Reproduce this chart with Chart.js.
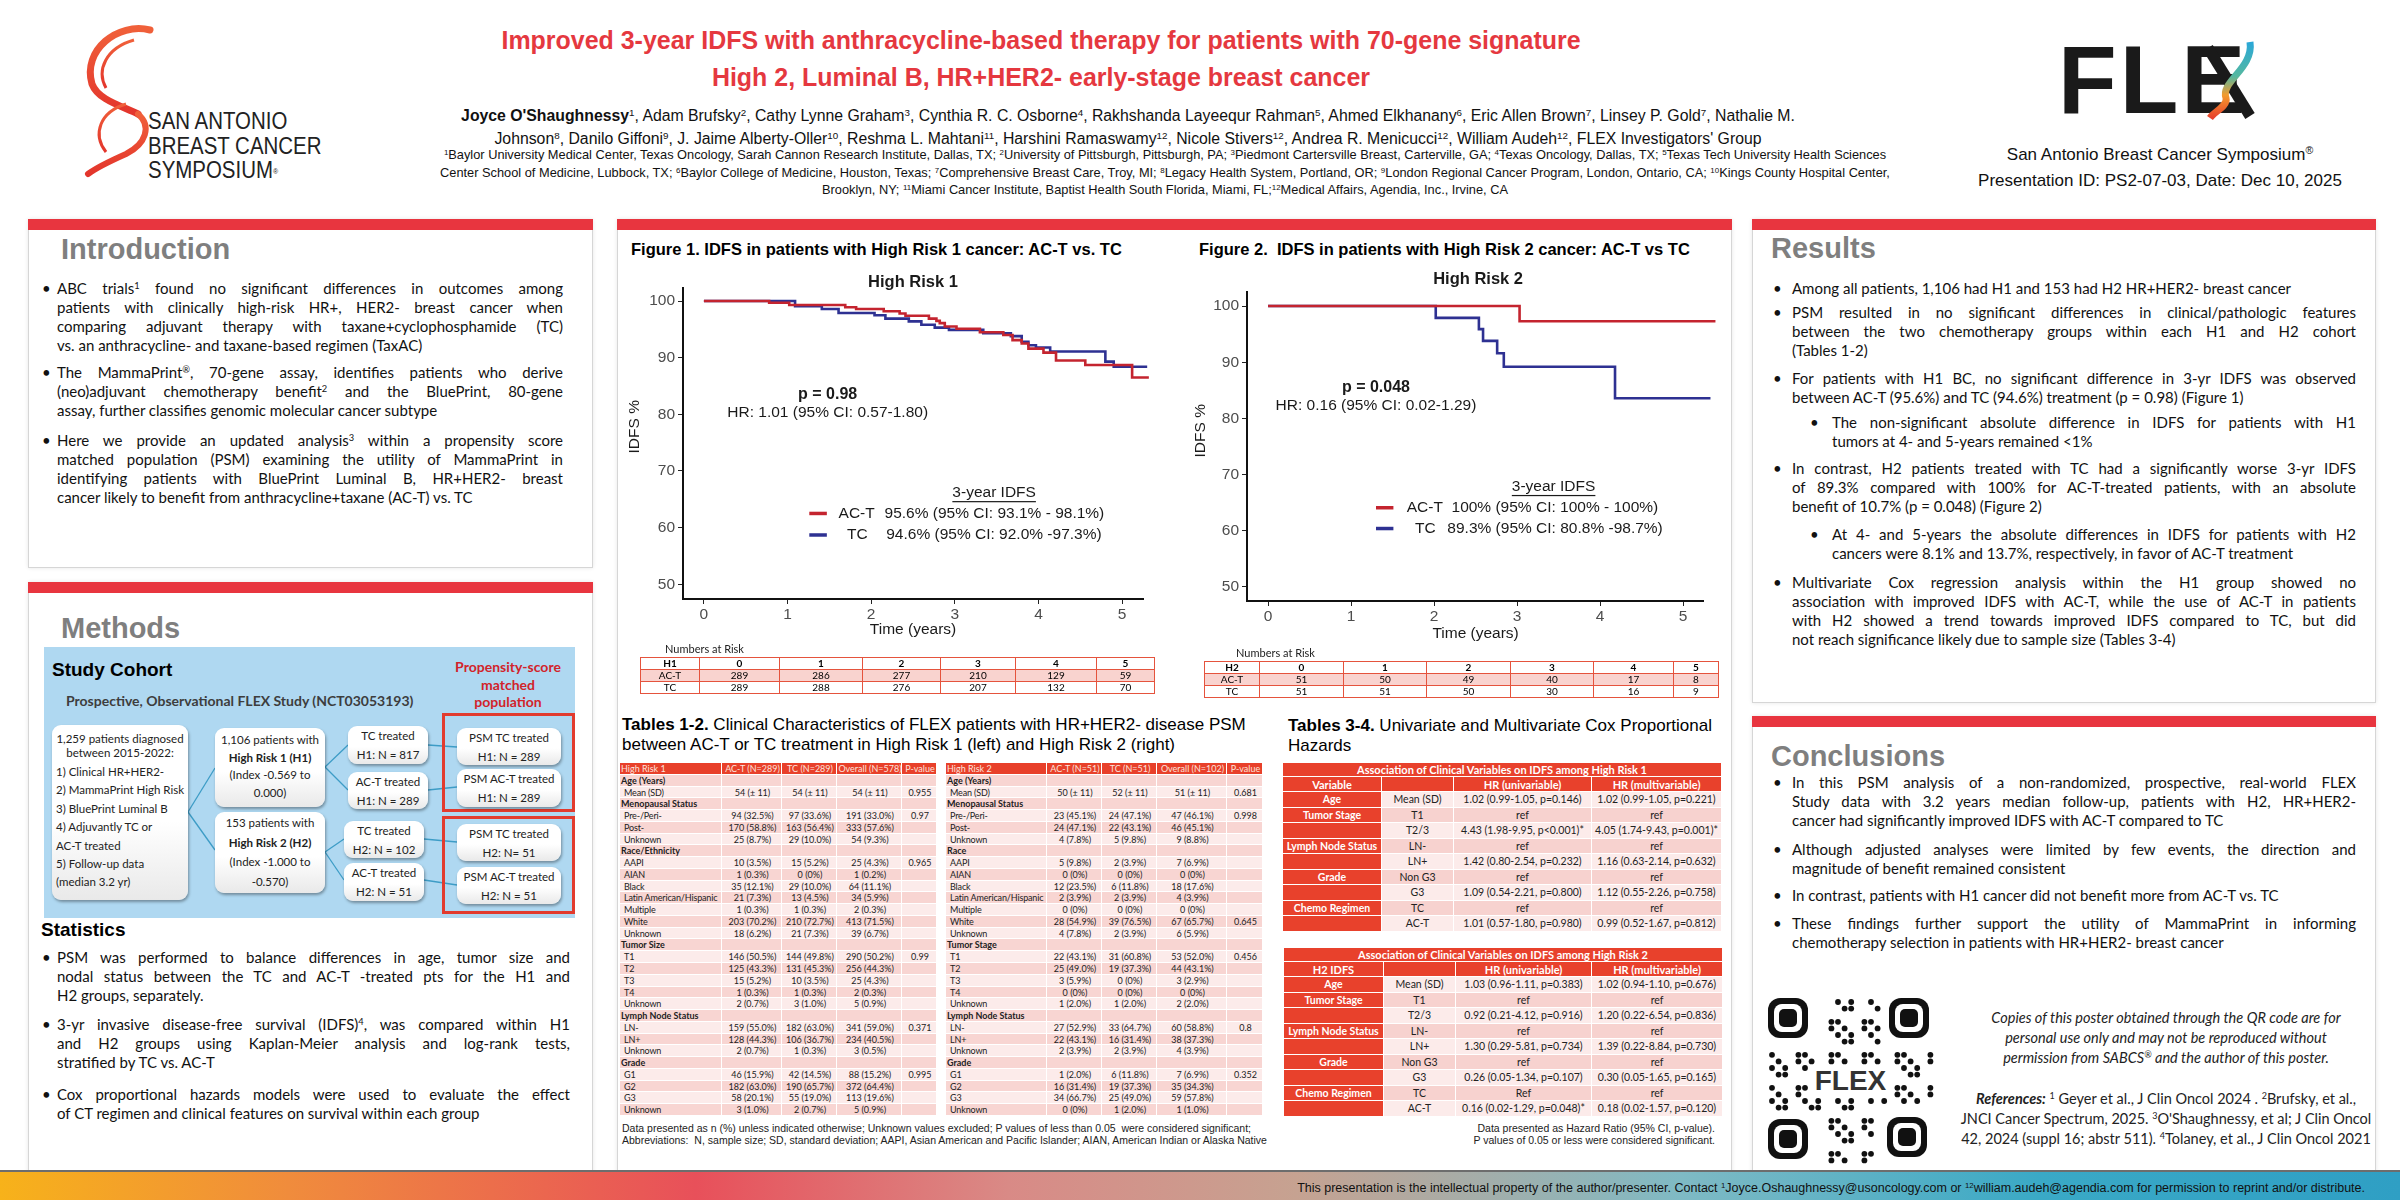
<!DOCTYPE html>
<html>
<head>
<meta charset="utf-8">
<title>FLEX PS2-07-03</title>
<script src="https://cdn.jsdelivr.net/npm/chart.js@4.4.1/dist/chart.umd.min.js"></script>
<style>
  html, body { margin: 0; padding: 0; }
  body { width: 2400px; height: 1200px; position: relative; overflow: hidden; background: #fff;
         font-family: "Liberation Sans", Arial, sans-serif; color: #000; }
  .abs { position: absolute; }
  .narrow { font-family: "Liberation Sans Narrow", "Arial Narrow", "Liberation Sans", sans-serif; }
  sup { font-size: 0.62em; line-height: 0; vertical-align: 0.55em; }
  .panel { position: absolute; background: #fff; border: 1px solid #d6d6d6; box-shadow: 0 0 4px rgba(0,0,0,0.10); }
  .panel .bar { position: absolute; left: -1px; right: -1px; top: -1px; height: 11px; background: #e8353f; }
  .heading { position: absolute; font: bold 29px "Liberation Sans", Arial, sans-serif; color: #7f7f7f; line-height: 34px; }
  .blist { position: absolute; font: 15px Lato, sans-serif; color: #111; }
  .blist .ln { height: 19px; line-height: 19px; text-align: justify; text-align-last: justify; }
  .blist .ln.last { text-align-last: left; }
  .figtitle { position: absolute; font: bold 16.5px "Liberation Sans", Arial, sans-serif; line-height: 20px; white-space: nowrap; }
  .risk { position: absolute; border-collapse: collapse; table-layout: fixed; font: 10px Lato, sans-serif; }
  .risk td { border: 1.5px solid #e5533d; height: 11px; padding: 0; text-align: center; line-height: 11px; }
  .risk tr.hd td { font-weight: bold; }
  .risk tr.a td { background: #f9d3cf; }
  .risklab { position: absolute; font: 11px Lato, sans-serif; color: #222; }
  .t12 { position: absolute; border-collapse: separate; border-spacing: 0; table-layout: fixed; font: 9px Lato, sans-serif; color: #222; }
  .t12 td { height: 11.77px; padding: 0 0 0 1px; line-height: 11.77px; border: 0; box-shadow: inset -1px -1px 0 #fff;
            white-space: nowrap; overflow: hidden; }
  .t12 td.c { text-align: center; }
  .t12 tr.hd td { background: #e8402a; color: #fde3dc; }
  .t12 tr.r0 td { background: #f8d5d2; }
  .t12 tr.r1 td { background: #fcebea; }
  .t12 td.cat { font-weight: bold; }
  .t12 td.sub { padding-left: 4px; letter-spacing: -0.15px; }
  .t34 { position: absolute; border-collapse: collapse; table-layout: fixed; font: 10.5px Lato, sans-serif; color: #222; }
  .t34 td { border: 1px solid #fff; padding: 0; text-align: center; white-space: nowrap; }
  .t34 td.red { background: #e8412c; color: #fff; font-weight: bold; }
  .t34 tr.r0 td.d { background: #fcebea; }
  .t34 tr.r1 td.d { background: #f7d2cf; }
  .note { position: absolute; font: 10.5px "Liberation Sans", Arial, sans-serif; color: #222; line-height: 12px; white-space: nowrap; }
  .cohort { position: absolute; left: 44px; top: 647px; width: 531px; height: 271px; background: #afd8f1; }
  .box { position: absolute; background: linear-gradient(#ffffff, #ffffff 55%, #e9e9e9); border-radius: 9px;
         box-shadow: 1px 2px 3px rgba(0,0,0,0.35); font: 11.5px Lato, sans-serif; color: #222; text-align: center; white-space: nowrap; }
  .frame { position: absolute; border: 3px solid #e23b2e; box-sizing: border-box; }
</style>
</head>
<body>

<!-- header -->
<svg class="abs" style="left:0;top:0" width="320" height="200">
  <defs>
    <linearGradient id="rib" x1="0" y1="0" x2="0" y2="1">
      <stop offset="0" stop-color="#f0603a"/><stop offset="1" stop-color="#e3352c"/>
    </linearGradient>
  </defs>
  <path d="M150 30 C 118 22, 82 50, 92 84 C 98 100, 122 106, 138 114" fill="none" stroke="url(#rib)" stroke-width="7" stroke-linecap="round"/>
  <path d="M134 40 C 106 48, 96 70, 106 88" fill="none" stroke="url(#rib)" stroke-width="3"/>
  <path d="M138 114 C 152 126, 146 144, 126 154 C 108 162, 96 168, 88 174" fill="none" stroke="url(#rib)" stroke-width="6" stroke-linecap="round"/>
  <path d="M126 104 C 100 112, 92 134, 106 152" fill="none" stroke="url(#rib)" stroke-width="3"/>
</svg>
<div class="abs narrow" style="left:148px;top:109px;font-size:23.5px;line-height:24.5px;color:#222;transform:scaleX(0.87);transform-origin:0 0;white-space:nowrap">SAN ANTONIO<br>BREAST CANCER<br>SYMPOSIUM<sup style="font-size:8px">®</sup></div>

<div class="abs narrow" style="left:441px;width:1200px;top:22px;text-align:center;font-weight:bold;font-size:26px;line-height:37px;color:#e5383f;transform:scaleX(0.96);transform-origin:50% 0">
  Improved 3-year IDFS with anthracycline-based therapy for patients with 70-gene signature<br>High 2, Luminal B, HR+HER2- early-stage breast cancer</div>
<div class="abs narrow" style="left:428px;width:1400px;top:104px;text-align:center;font-size:15.8px;line-height:23px;color:#111">
  <b>Joyce O'Shaughnessy</b><sup>1</sup>, Adam Brufsky<sup>2</sup>, Cathy Lynne Graham<sup>3</sup>, Cynthia R. C. Osborne<sup>4</sup>, Rakhshanda Layeequr Rahman<sup>5</sup>, Ahmed Elkhanany<sup>6</sup>, Eric Allen Brown<sup>7</sup>, Linsey P. Gold<sup>7</sup>, Nathalie M.<br>
  Johnson<sup>8</sup>, Danilo Giffoni<sup>9</sup>, J. Jaime Alberty-Oller<sup>10</sup>, Reshma L. Mahtani<sup>11</sup>, Harshini Ramaswamy<sup>12</sup>, Nicole Stivers<sup>12</sup>, Andrea R. Menicucci<sup>12</sup>, William Audeh<sup>12</sup>, FLEX Investigators' Group</div>
<div class="abs narrow" style="left:415px;width:1500px;top:146px;text-align:center;font-size:12.8px;line-height:17.5px;color:#111">
  <sup>1</sup>Baylor University Medical Center, Texas Oncology, Sarah Cannon Research Institute, Dallas, TX; <sup>2</sup>University of Pittsburgh, Pittsburgh, PA; <sup>3</sup>Piedmont Cartersville Breast, Carterville, GA; <sup>4</sup>Texas Oncology, Dallas, TX; <sup>5</sup>Texas Tech University Health Sciences<br>
  Center School of Medicine, Lubbock, TX; <sup>6</sup>Baylor College of Medicine, Houston, Texas; <sup>7</sup>Comprehensive Breast Care, Troy, MI; <sup>8</sup>Legacy Health System, Portland, OR; <sup>9</sup>London Regional Cancer Program, London, Ontario, CA; <sup>10</sup>Kings County Hospital Center,<br>
  Brooklyn, NY; <sup>11</sup>Miami Cancer Institute, Baptist Health South Florida, Miami, FL;<sup>12</sup>Medical Affairs, Agendia, Inc., Irvine, CA</div>

<div class="abs narrow" style="left:2058px;top:30px;font-weight:bold;font-size:96px;line-height:100px;color:#1a1a1a;letter-spacing:3px">FLE</div>
<svg class="abs" style="left:2200px;top:38px" width="70" height="86">
  <defs>
    <linearGradient id="hel" x1="0" y1="0" x2="0" y2="1">
      <stop offset="0" stop-color="#2aa7d8"/><stop offset="0.45" stop-color="#55b8a0"/><stop offset="0.7" stop-color="#f39a2c"/><stop offset="1" stop-color="#e8412c"/>
    </linearGradient>
  </defs>
  <path d="M8 10 L 50 78" stroke="#1a1a1a" stroke-width="11"/>
  <path d="M50 4 C 54 30, 20 44, 26 60 C 28 68, 14 74, 10 80" fill="none" stroke="url(#hel)" stroke-width="7"/>
  <g stroke="url(#hel)" stroke-width="3">
    <line x1="38" y1="14" x2="54" y2="14"/><line x1="34" y1="24" x2="50" y2="24"/><line x1="28" y1="34" x2="44" y2="34"/>
    <line x1="14" y1="66" x2="30" y2="66"/><line x1="10" y1="74" x2="26" y2="74"/>
  </g>
</svg>
<div class="abs" style="left:1950px;width:420px;top:142px;text-align:center;font-size:17px;line-height:26px;color:#111">
  San Antonio Breast Cancer Symposium<sup>®</sup><br>Presentation ID: PS2-07-03, Date: Dec 10, 2025</div>

<!-- panels -->
<div class="panel" style="left:28px;top:219px;width:563px;height:347px"><div class="bar"></div></div>
<div class="panel" style="left:28px;top:582px;width:563px;height:590px"><div class="bar"></div></div>
<div class="panel" style="left:617px;top:219px;width:1113px;height:953px"><div class="bar"></div></div>
<div class="panel" style="left:1752px;top:219px;width:622px;height:482px"><div class="bar"></div></div>
<div class="panel" style="left:1752px;top:716px;width:622px;height:456px"><div class="bar"></div></div>

<div class="heading" style="left:61px;top:232px">Introduction</div>
<div class="heading" style="left:61px;top:611px">Methods</div>
<div class="heading" style="left:1771px;top:231px">Results</div>
<div class="heading" style="left:1771px;top:739px">Conclusions</div>

<div id="introList"></div>
<div id="statList"></div>
<div id="resultList"></div>
<div id="conclList"></div>

<!-- study cohort -->
<div class="cohort"></div>
<div class="abs" style="left:52px;top:659px;font:bold 19px 'Liberation Sans',Arial,sans-serif">Study Cohort</div>
<div class="abs" style="left:66px;top:692px;font:bold 14px Lato,sans-serif;color:#3d3d3d">Prospective, Observational FLEX Study (NCT03053193)</div>
<div class="abs" style="left:448px;width:120px;top:658px;text-align:center;font:bold 14px Lato,sans-serif;line-height:17.5px;color:#d2232a">Propensity-score<br>matched<br>population</div>
<svg class="abs" style="left:0;top:0" width="600" height="1000">
  <g stroke="#3d9cc6" stroke-width="1.3" fill="none">
    <line x1="188" y1="812" x2="215" y2="768"/><line x1="188" y1="812" x2="215" y2="850"/>
    <line x1="325" y1="767" x2="348" y2="745"/><line x1="325" y1="767" x2="348" y2="790"/>
    <line x1="325" y1="852" x2="344" y2="839"/><line x1="325" y1="852" x2="344" y2="880"/>
    <line x1="428" y1="745" x2="457" y2="747"/><line x1="428" y1="790" x2="457" y2="787"/>
    <line x1="424" y1="839" x2="457" y2="842"/><line x1="424" y1="880" x2="457" y2="885"/>
  </g>
</svg>
<div class="box" style="left:52px;top:725px;width:136px;height:175px">
  <div style="padding-top:7px;line-height:14px">1,259 patients diagnosed<br>between 2015-2022:</div>
  <div style="text-align:left;padding-left:4px;line-height:18.4px;margin-top:3px">1) Clinical HR+HER2-<br>2) MammaPrint High Risk<br>3) BluePrint Luminal B<br>4) Adjuvantly TC or<br>AC-T treated<br>5) Follow-up data<br>(median 3.2 yr)</div>
</div>
<div class="box" style="left:215px;top:728px;width:110px;height:79px;line-height:17.5px;padding-top:3px;box-sizing:border-box">1,106 patients with<br><b>High Risk 1 (H1)</b><br>(Index -0.569 to<br>0.000)</div>
<div class="box" style="left:215px;top:812px;width:110px;height:81px;line-height:19.5px;padding-top:1px;box-sizing:border-box">153 patients with<br><b>High Risk 2 (H2)</b><br>(Index -1.000 to<br>-0.570)</div>
<div class="box" style="left:348px;top:726px;width:80px;height:38px;line-height:19px">TC treated<br>H1: N = 817</div>
<div class="box" style="left:348px;top:772px;width:80px;height:37px;line-height:19px">AC-T treated<br>H1: N = 289</div>
<div class="box" style="left:344px;top:821px;width:80px;height:37px;line-height:19px">TC treated<br>H2: N = 102</div>
<div class="box" style="left:344px;top:863px;width:80px;height:38px;line-height:19px">AC-T treated<br>H2: N = 51</div>
<div class="frame" style="left:442px;top:713px;width:133px;height:99px"></div>
<div class="frame" style="left:442px;top:816px;width:133px;height:98px"></div>
<div class="box" style="left:457px;top:728px;width:104px;height:37px;line-height:19px">PSM TC treated<br>H1: N = 289</div>
<div class="box" style="left:457px;top:769px;width:104px;height:38px;line-height:19px">PSM AC-T treated<br>H1: N = 289</div>
<div class="box" style="left:457px;top:824px;width:104px;height:37px;line-height:19px">PSM TC treated<br>H2: N= 51</div>
<div class="box" style="left:457px;top:867px;width:104px;height:37px;line-height:19px">PSM AC-T treated<br>H2: N = 51</div>

<div class="abs" style="left:41px;top:919px;font:bold 19px 'Liberation Sans',Arial,sans-serif">Statistics</div>

<!-- figures -->
<div class="figtitle" style="left:631px;top:239px">Figure 1. IDFS in patients with High Risk 1 cancer: AC-T vs. TC</div>
<div class="figtitle" style="left:1199px;top:239px">Figure 2.&nbsp; IDFS in patients with High Risk 2 cancer: AC-T vs TC</div>
<canvas id="fig1" class="abs" style="left:620px;top:265px" width="545" height="380"></canvas>
<canvas id="fig2" class="abs" style="left:1190px;top:265px" width="540" height="380"></canvas>
<div class="risklab" style="left:665px;top:642px">Numbers at Risk</div>
<div class="risklab" style="left:1236px;top:646px">Numbers at Risk</div>
<table id="risk1" class="risk" style="left:640px;top:657px;width:514px"></table>
<table id="risk2" class="risk" style="left:1204px;top:661px;width:514px"></table>

<!-- tables -->
<div class="abs" style="left:622px;top:715px;font-size:17px;line-height:19.5px;white-space:nowrap"><b>Tables 1-2.</b> Clinical Characteristics of FLEX patients with HR+HER2- disease PSM<br>between AC-T or TC treatment in High Risk 1 (left) and High Risk 2 (right)</div>
<table id="tab1" class="t12" style="left:620px;top:763px;width:317px"></table>
<table id="tab2" class="t12" style="left:946px;top:763px;width:317px"></table>
<div class="note" style="left:622px;top:1122px">Data presented as n (%) unless indicated otherwise; Unknown values excluded; P values of less than 0.05&nbsp; were considered significant;<br>Abbreviations:&nbsp; N, sample size; SD, standard deviation; AAPI, Asian American and Pacific Islander; AIAN, American Indian or Alaska Native</div>

<div class="abs" style="left:1288px;top:716px;font-size:17px;line-height:19.5px;white-space:nowrap"><b>Tables 3-4.</b> Univariate and Multivariate Cox Proportional<br>Hazards</div>
<table id="tab3" class="t34" style="left:1282px;top:762px;width:439px"></table>
<table id="tab4" class="t34" style="left:1283px;top:947px;width:439px"></table>
<div class="note" style="left:1400px;width:315px;top:1122px;text-align:right">Data presented as Hazard Ratio (95% CI, p-value).<br>P values of 0.05 or less were considered significant.</div>

<!-- qr + references -->
<svg id="qr" class="abs" style="left:1768px;top:998px" width="170" height="172"></svg>
<div class="abs" style="left:1960px;width:412px;top:1008px;text-align:center;font:italic 14.5px Lato,sans-serif;line-height:20px;color:#222">
  Copies of this poster obtained through the QR code are for<br>personal use only and may not be reproduced without<br>permission from SABCS<sup>®</sup> and the author of this poster.</div>
<div class="abs" style="left:1960px;width:412px;top:1089px;text-align:center;font:14.5px Lato,sans-serif;line-height:20px;color:#222">
  <b><i>References:</i></b> <sup>1</sup> Geyer et al., J Clin Oncol 2024 . <sup>2</sup>Brufsky, et al.,<br>JNCI Cancer Spectrum, 2025. <sup>3</sup>O'Shaughnessy, et al; J Clin Oncol<br>42, 2024 (suppl 16; abstr 511). <sup>4</sup>Tolaney, et al., J Clin Oncol 2021</div>

<!-- footer -->
<div class="abs" style="left:0;top:1170px;width:2400px;height:30px;border-top:2px solid #6d6d6d;box-sizing:border-box;
  background:linear-gradient(90deg,#f7b21a 0%,#f08c3c 12%,#e8505a 29%,#d98a86 42%,#c6a291 54%,#7fbac4 70%,#3aa9c6 85%,#2f9fc4 100%)"></div>
<div class="abs" style="left:1200px;width:1165px;top:1180px;text-align:right;font-size:12.5px;line-height:16px;color:#111">
  This presentation is the intellectual property of the author/presenter. Contact <sup>1</sup>Joyce.Oshaughnessy@usoncology.com or <sup>12</sup>william.audeh@agendia.com for permission to reprint and/or distribute.</div>

<script>
// ---- chart data ----
const xTicks = [0, 1, 2, 3, 4, 5];
const yTicks = [50, 60, 70, 80, 90, 100];
const riskTimes = ['0', '1', '2', '3', '4', '5'];

// High Risk 1: step times (years) and IDFS % after each step
const h1ActTimes = [0, 0.78, 1.02, 1.69, 1.82, 2.15, 2.34, 2.41, 2.69, 2.78, 2.82, 2.88, 3.02, 3.30, 3.58, 3.69, 3.80, 3.88, 4.06, 4.21, 4.56, 5.12, 5.32];
const h1ActIdfs  = [100, 99.7, 99.3, 98.9, 98.6, 98.2, 97.8, 97.4, 96.9, 96.5, 96.1, 95.5, 95.1, 94.5, 94.0, 93.1, 92.5, 91.6, 90.9, 89.5, 88.7, 86.5, 86.5];
const h1TcTimes  = [0, 1.09, 1.41, 1.61, 2.04, 2.17, 2.45, 2.60, 2.76, 2.93, 3.34, 3.67, 3.80, 3.88, 3.97, 4.14, 4.80, 4.90, 5.30];
const h1TcIdfs   = [100, 99.1, 98.6, 97.9, 97.5, 96.9, 96.4, 95.8, 95.3, 94.9, 94.3, 93.8, 92.8, 92.2, 91.8, 91.1, 89.3, 88.4, 88.4];

// High Risk 2
const h2ActTimes = [0, 3.03, 5.39];
const h2ActIdfs  = [100, 97.3, 97.3];
const h2TcTimes  = [0, 2.02, 2.54, 2.59, 2.76, 2.84, 4.18, 5.33];
const h2TcIdfs   = [100, 97.9, 95.9, 93.8, 91.6, 89.2, 83.6, 83.6];

// numbers at risk
const h1RiskAct = [289, 286, 277, 210, 129, 59];
const h1RiskTc  = [289, 288, 276, 207, 132, 70];
const h2RiskAct = [51, 50, 49, 40, 17, 8];
const h2RiskTc  = [51, 51, 50, 30, 16, 9];

const RED = '#c4242f';
const BLUE = '#2e3192';

// ---- table data ----
const tab1Head = ['High Risk 1', 'AC-T (N=289)', 'TC (N=289)', 'Overall (N=578)', 'P-value'];
const tab1Rows = [
  ['Age (Years)'], ['Mean (SD)', '54 (± 11)', '54 (± 11)', '54 (± 11)', '0.955'],
  ['Menopausal Status'], ['Pre-/Peri-', '94 (32.5%)', '97 (33.6%)', '191 (33.0%)', '0.97'],
  ['Post-', '170 (58.8%)', '163 (56.4%)', '333 (57.6%)', ''], ['Unknown', '25 (8.7%)', '29 (10.0%)', '54 (9.3%)', ''],
  ['Race/Ethnicity'], ['AAPI', '10 (3.5%)', '15 (5.2%)', '25 (4.3%)', '0.965'], ['AIAN', '1 (0.3%)', '0 (0%)', '1 (0.2%)', ''],
  ['Black', '35 (12.1%)', '29 (10.0%)', '64 (11.1%)', ''], ['Latin American/Hispanic', '21 (7.3%)', '13 (4.5%)', '34 (5.9%)', ''],
  ['Multiple', '1 (0.3%)', '1 (0.3%)', '2 (0.3%)', ''], ['White', '203 (70.2%)', '210 (72.7%)', '413 (71.5%)', ''],
  ['Unknown', '18 (6.2%)', '21 (7.3%)', '39 (6.7%)', ''],
  ['Tumor Size'], ['T1', '146 (50.5%)', '144 (49.8%)', '290 (50.2%)', '0.99'], ['T2', '125 (43.3%)', '131 (45.3%)', '256 (44.3%)', ''],
  ['T3', '15 (5.2%)', '10 (3.5%)', '25 (4.3%)', ''], ['T4', '1 (0.3%)', '1 (0.3%)', '2 (0.3%)', ''], ['Unknown', '2 (0.7%)', '3 (1.0%)', '5 (0.9%)', ''],
  ['Lymph Node Status'], ['LN-', '159 (55.0%)', '182 (63.0%)', '341 (59.0%)', '0.371'], ['LN+', '128 (44.3%)', '106 (36.7%)', '234 (40.5%)', ''],
  ['Unknown', '2 (0.7%)', '1 (0.3%)', '3 (0.5%)', ''],
  ['Grade'], ['G1', '46 (15.9%)', '42 (14.5%)', '88 (15.2%)', '0.995'], ['G2', '182 (63.0%)', '190 (65.7%)', '372 (64.4%)', ''],
  ['G3', '58 (20.1%)', '55 (19.0%)', '113 (19.6%)', ''], ['Unknown', '3 (1.0%)', '2 (0.7%)', '5 (0.9%)', '']
];
const tab2Head = ['High Risk 2', 'AC-T (N=51)', 'TC (N=51)', 'Overall (N=102)', 'P-value'];
const tab2Rows = [
  ['Age (Years)'], ['Mean (SD)', '50 (± 11)', '52 (± 11)', '51 (± 11)', '0.681'],
  ['Menopausal Status'], ['Pre-/Peri-', '23 (45.1%)', '24 (47.1%)', '47 (46.1%)', '0.998'],
  ['Post-', '24 (47.1%)', '22 (43.1%)', '46 (45.1%)', ''], ['Unknown', '4 (7.8%)', '5 (9.8%)', '9 (8.8%)', ''],
  ['Race'], ['AAPI', '5 (9.8%)', '2 (3.9%)', '7 (6.9%)', ''], ['AIAN', '0 (0%)', '0 (0%)', '0 (0%)', ''],
  ['Black', '12 (23.5%)', '6 (11.8%)', '18 (17.6%)', ''], ['Latin American/Hispanic', '2 (3.9%)', '2 (3.9%)', '4 (3.9%)', ''],
  ['Multiple', '0 (0%)', '0 (0%)', '0 (0%)', ''], ['White', '28 (54.9%)', '39 (76.5%)', '67 (65.7%)', '0.645'],
  ['Unknown', '4 (7.8%)', '2 (3.9%)', '6 (5.9%)', ''],
  ['Tumor Stage'], ['T1', '22 (43.1%)', '31 (60.8%)', '53 (52.0%)', '0.456'], ['T2', '25 (49.0%)', '19 (37.3%)', '44 (43.1%)', ''],
  ['T3', '3 (5.9%)', '0 (0%)', '3 (2.9%)', ''], ['T4', '0 (0%)', '0 (0%)', '0 (0%)', ''], ['Unknown', '1 (2.0%)', '1 (2.0%)', '2 (2.0%)', ''],
  ['Lymph Node Status'], ['LN-', '27 (52.9%)', '33 (64.7%)', '60 (58.8%)', '0.8'], ['LN+', '22 (43.1%)', '16 (31.4%)', '38 (37.3%)', ''],
  ['Unknown', '2 (3.9%)', '2 (3.9%)', '4 (3.9%)', ''],
  ['Grade'], ['G1', '1 (2.0%)', '6 (11.8%)', '7 (6.9%)', '0.352'], ['G2', '16 (31.4%)', '19 (37.3%)', '35 (34.3%)', ''],
  ['G3', '34 (66.7%)', '25 (49.0%)', '59 (57.8%)', ''], ['Unknown', '0 (0%)', '1 (2.0%)', '1 (1.0%)', '']
];
const tab3Title = 'Association of Clinical Variables on IDFS among High Risk 1';
const tab3Head = ['Variable', '', 'HR (univariable)', 'HR (multivariable)'];
const tab3Rows = [
  ['Age', 'Mean (SD)', '1.02 (0.99-1.05, p=0.146)', '1.02 (0.99-1.05, p=0.221)'],
  ['Tumor Stage', 'T1', 'ref', 'ref'], ['', 'T2/3', '4.43 (1.98-9.95, p<0.001)*', '4.05 (1.74-9.43, p=0.001)*'],
  ['Lymph Node Status', 'LN-', 'ref', 'ref'], ['', 'LN+', '1.42 (0.80-2.54, p=0.232)', '1.16 (0.63-2.14, p=0.632)'],
  ['Grade', 'Non G3', 'ref', 'ref'], ['', 'G3', '1.09 (0.54-2.21, p=0.800)', '1.12 (0.55-2.26, p=0.758)'],
  ['Chemo Regimen', 'TC', 'ref', 'ref'], ['', 'AC-T', '1.01 (0.57-1.80, p=0.980)', '0.99 (0.52-1.67, p=0.812)']
];
const tab4Title = 'Association of Clinical Variables on IDFS among High Risk 2';
const tab4Head = ['H2 IDFS', '', 'HR (univariable)', 'HR (multivariable)'];
const tab4Rows = [
  ['Age', 'Mean (SD)', '1.03 (0.96-1.11, p=0.383)', '1.02 (0.94-1.10, p=0.676)'],
  ['Tumor Stage', 'T1', 'ref', 'ref'], ['', 'T2/3', '0.92 (0.21-4.12, p=0.916)', '1.20 (0.22-6.54, p=0.836)'],
  ['Lymph Node Status', 'LN-', 'ref', 'ref'], ['', 'LN+', '1.30 (0.29-5.81, p=0.734)', '1.39 (0.22-8.84, p=0.730)'],
  ['Grade', 'Non G3', 'ref', 'ref'], ['', 'G3', '0.26 (0.05-1.34, p=0.107)', '0.30 (0.05-1.65, p=0.165)'],
  ['Chemo Regimen', 'TC', 'Ref', 'ref'], ['', 'AC-T', '0.16 (0.02-1.29, p=0.048)*', '0.18 (0.02-1.57, p=0.120)']
];

// ---- bullet text (one entry per printed line) ----
const introItems = [
  { top: 279, lines: ['ABC trials<sup>1</sup> found no significant differences in outcomes among', 'patients with clinically high-risk HR+, HER2- breast cancer when', 'comparing adjuvant therapy with taxane+cyclophosphamide (TC)', 'vs. an anthracycline- and taxane-based regimen (TaxAC)'] },
  { top: 363, lines: ['The MammaPrint<sup>®</sup>, 70-gene assay, identifies patients who derive', '(neo)adjuvant chemotherapy benefit<sup>2</sup> and the BluePrint, 80-gene', 'assay, further classifies genomic molecular cancer subtype'] },
  { top: 431, lines: ['Here we provide an updated analysis<sup>3</sup> within a propensity score', 'matched population (PSM) examining the utility of MammaPrint in', 'identifying patients with BluePrint Luminal B, HR+HER2- breast', 'cancer likely to benefit from anthracycline+taxane (AC-T) vs. TC'] }
];
const statItems = [
  { top: 948, lines: ['PSM was performed to balance differences in age, tumor size and', 'nodal status between the TC and AC-T -treated pts for the H1 and', 'H2 groups, separately.'] },
  { top: 1015, lines: ['3-yr invasive disease-free survival (IDFS)<sup>4</sup>, was compared within H1', 'and H2 groups using Kaplan-Meier analysis and log-rank tests,', 'stratified by TC vs. AC-T'] },
  { top: 1085, lines: ['Cox proportional hazards models were used to evaluate the effect', 'of CT regimen and clinical features on survival within each group'] }
];
const resultItems = [
  { top: 279, lines: ['Among all patients, 1,106 had H1 and 153 had H2 HR+HER2- breast cancer'] },
  { top: 303, lines: ['PSM resulted in no significant differences in clinical/pathologic features', 'between the two chemotherapy groups within each H1 and H2 cohort', '(Tables 1-2)'] },
  { top: 369, lines: ['For patients with H1 BC, no significant difference in 3-yr IDFS was observed', 'between AC-T (95.6%) and TC (94.6%) treatment (p = 0.98) (Figure 1)'] },
  { top: 413, sub: true, lines: ['The non-significant absolute difference in IDFS for patients with H1', 'tumors at 4- and 5-years remained &lt;1%'] },
  { top: 459, lines: ['In contrast, H2 patients treated with TC had a significantly worse 3-yr IDFS', 'of 89.3% compared with 100% for AC-T-treated patients, with an absolute', 'benefit of 10.7% (p = 0.048) (Figure 2)'] },
  { top: 525, sub: true, lines: ['At 4- and 5-years the absolute differences in IDFS for patients with H2', 'cancers were 8.1% and 13.7%, respectively, in favor of AC-T treatment'] },
  { top: 573, lines: ['Multivariate Cox regression analysis within the H1 group showed no', 'association with improved IDFS with AC-T, while the use of AC-T in patients', 'with H2 showed a trend towards improved IDFS compared to TC, but did', 'not reach significance likely due to sample size (Tables 3-4)'] }
];
const conclItems = [
  { top: 773, lines: ['In this PSM analysis of a non-randomized, prospective, real-world FLEX', 'Study data with 3.2 years median follow-up, patients with H2, HR+HER2-', 'cancer had significantly improved IDFS with AC-T compared to TC'] },
  { top: 840, lines: ['Although adjusted analyses were limited by few events, the direction and', 'magnitude of benefit remained consistent'] },
  { top: 886, lines: ['In contrast, patients with H1 cancer did not benefit more from AC-T vs. TC'] },
  { top: 914, lines: ['These findings further support the utility of MammaPrint in informing', 'chemotherapy selection in patients with HR+HER2- breast cancer'] }
];

// ---- helpers ----
function drawBullets(id, items, dotX, textX, textR, subDotX, subTextX) {
  const host = document.getElementById(id);
  items.forEach(it => {
    const left = it.sub ? subTextX : textX;
    const blk = document.createElement('div');
    blk.className = 'blist';
    blk.style.left = left + 'px';
    blk.style.top = it.top + 'px';
    blk.style.width = (textR - left) + 'px';
    blk.innerHTML = it.lines.map((l, i) => `<div class="ln${i === it.lines.length - 1 ? ' last' : ''}">${l}</div>`).join('');
    const dot = document.createElement('div');
    dot.className = 'blist';
    dot.style.left = (it.sub ? subDotX : dotX) + 'px';
    dot.style.top = it.top + 'px';
    dot.innerHTML = '<div class="ln">•</div>';
    host.appendChild(dot);
    host.appendChild(blk);
  });
}

function riskTable(id, label, act, tc, widths) {
  const t = document.getElementById(id);
  const cols = widths.map(w => `<col style="width:${w}px">`).join('');
  const row = (cls, first, vals) => `<tr class="${cls}"><td>${first}</td>${vals.map(v => `<td>${v}</td>`).join('')}</tr>`;
  t.innerHTML = cols + row('hd', label, riskTimes) + row('a', 'AC-T', act) + row('', 'TC', tc);
}

function table12(id, head, rows, widths) {
  const t = document.getElementById(id);
  let h = widths.map(w => `<col style="width:${w}px">`).join('');
  h += '<tr class="hd">' + head.map((c, i) => `<td class="${i ? 'c' : ''}">${c}</td>`).join('') + '</tr>';
  rows.forEach((r, k) => {
    const cls = 'r' + (k % 2);
    if (r.length === 1) {
      h += `<tr class="${cls}"><td class="cat">${r[0]}</td><td></td><td></td><td></td><td></td></tr>`;
    } else {
      h += `<tr class="${cls}"><td class="sub">${r[0]}</td>` + r.slice(1).map(c => `<td class="c">${c}</td>`).join('') + '</tr>';
    }
  });
  t.innerHTML = h;
}

function table34(id, title, head, rows, widths) {
  const t = document.getElementById(id);
  let h = widths.map(w => `<col style="width:${w}px">`).join('');
  h += `<tr style="height:14px"><td class="red" colspan="4" style="font-size:11px">${title}</td></tr>`;
  h += '<tr style="height:15px">' + head.map(c => `<td class="red" style="font-size:11px">${c}</td>`).join('') + '</tr>';
  rows.forEach((r, k) => {
    h += `<tr class="r${k % 2}" style="height:15.5px"><td class="red">${r[0]}</td>` + r.slice(1).map(c => `<td class="d">${c}</td>`).join('') + '</tr>';
  });
  t.innerHTML = h;
}

// text placed in data coordinates of the chart
const notesPlugin = {
  id: 'notes',
  afterDraw(chart, args, opts) {
    const { ctx } = chart;
    const sx = chart.scales.x, sy = chart.scales.y;
    ctx.save();
    ctx.textBaseline = 'middle';
    (opts.items || []).forEach(n => {
      const px = sx.getPixelForValue(n.x), py = sy.getPixelForValue(n.y);
      if (n.swatch) {
        ctx.strokeStyle = n.swatch;
        ctx.lineWidth = 3.5;
        ctx.beginPath();
        ctx.moveTo(px, py);
        ctx.lineTo(sx.getPixelForValue(n.x2), py);
        ctx.stroke();
        return;
      }
      ctx.font = n.font;
      ctx.fillStyle = '#1a1a1a';
      ctx.textAlign = n.align || 'center';
      if (n.rotate) {
        ctx.save();
        ctx.translate(px, py);
        ctx.rotate(-Math.PI / 2);
        ctx.fillText(n.text, 0, 0);
        ctx.restore();
        return;
      }
      ctx.fillText(n.text, px, py);
      if (n.underline) {
        const w = ctx.measureText(n.text).width;
        const x0 = ctx.textAlign === 'center' ? px - w / 2 : px;
        ctx.fillRect(x0, py + 8, w, 1.2);
      }
    });
    ctx.restore();
  }
};

const FONT = '"Liberation Sans", Arial, sans-serif';

function kmChart(id, curves, notes, box) {
  return new Chart(document.getElementById(id), {
    type: 'line',
    data: {
      datasets: curves.map(c => ({
        label: c.label,
        data: c.times.map((t, i) => ({ x: t, y: c.idfs[i] })),
        borderColor: c.color,
        borderWidth: 2.6,
        pointRadius: 0,
        stepped: 'before',
        fill: false,
        clip: false
      }))
    },
    plugins: [notesPlugin],
    options: {
      responsive: false,
      animation: false,
      events: [],
      layout: { padding: { top: box.padTop, right: box.padRight, left: 0, bottom: 0 } },
      plugins: { legend: { display: false }, tooltip: { enabled: false }, notes: { items: notes } },
      scales: {
        x: {
          type: 'linear', min: box.xMin, max: box.xMax,
          afterBuildTicks: s => { s.ticks = xTicks.map(v => ({ value: v })); },
          afterFit: s => { s.height = box.xAxisH; },
          grid: { drawOnChartArea: false, drawTicks: true, tickLength: 5, color: '#222', lineWidth: 1 },
          border: { display: true, color: '#111', width: 2 },
          ticks: { color: '#4d4d4d', font: { family: FONT, size: 15.5 }, padding: 1, maxRotation: 0, autoSkip: false }
        },
        y: {
          type: 'linear', min: box.yMin, max: box.yMax,
          afterBuildTicks: s => { s.ticks = yTicks.map(v => ({ value: v })); },
          afterFit: s => { s.width = box.yAxisW; },
          grid: { drawOnChartArea: false, drawTicks: true, tickLength: 5, color: '#222', lineWidth: 1 },
          border: { display: true, color: '#111', width: 2 },
          ticks: { color: '#4d4d4d', font: { family: FONT, size: 15.5 }, padding: 3, autoSkip: false }
        }
      }
    }
  });
}

const B = 'bold 16.5px ' + FONT, R = '15.5px ' + FONT;

const fig1Notes = [
  { text: 'High Risk 1', x: 2.5, y: 103.35, font: B },
  { text: 'IDFS %', x: -0.83, y: 77.8, font: R, rotate: true },
  { text: 'Time (years)', x: 2.5, y: 41.9, font: R },
  { text: 'p = 0.98', x: 1.48, y: 83.5, font: 'bold 16px ' + FONT },
  { text: 'HR: 1.01 (95% CI: 0.57-1.80)', x: 1.48, y: 80.2, font: R },
  { text: '3-year IDFS', x: 3.47, y: 66.1, font: R, underline: true },
  { swatch: RED, x: 1.26, x2: 1.47, y: 62.5 },
  { text: 'AC-T', x: 1.61, y: 62.5, font: R, align: 'left' },
  { text: '95.6% (95% CI: 93.1% - 98.1%)', x: 2.16, y: 62.5, font: R, align: 'left' },
  { swatch: BLUE, x: 1.26, x2: 1.47, y: 58.7 },
  { text: 'TC', x: 1.71, y: 58.7, font: R, align: 'left' },
  { text: '94.6% (95% CI: 92.0% -97.3%)', x: 2.18, y: 58.7, font: R, align: 'left' }
];
const fig2Notes = [
  { text: 'High Risk 2', x: 2.53, y: 104.8, font: B },
  { text: 'IDFS %', x: -0.81, y: 77.8, font: R, rotate: true },
  { text: 'Time (years)', x: 2.5, y: 41.6, font: R },
  { text: 'p = 0.048', x: 1.30, y: 85.5, font: 'bold 16px ' + FONT },
  { text: 'HR: 0.16 (95% CI: 0.02-1.29)', x: 1.30, y: 82.2, font: R },
  { text: '3-year IDFS', x: 3.44, y: 67.8, font: R, underline: true },
  { swatch: RED, x: 1.30, x2: 1.51, y: 64.1 },
  { text: 'AC-T', x: 1.67, y: 64.1, font: R, align: 'left' },
  { text: '100% (95% CI: 100% - 100%)', x: 2.21, y: 64.1, font: R, align: 'left' },
  { swatch: BLUE, x: 1.30, x2: 1.51, y: 60.4 },
  { text: 'TC', x: 1.77, y: 60.4, font: R, align: 'left' },
  { text: '89.3% (95% CI: 80.8% -98.7%)', x: 2.16, y: 60.4, font: R, align: 'left' }
];

kmChart('fig1', [
  { label: 'AC-T', times: h1ActTimes, idfs: h1ActIdfs, color: RED },
  { label: 'TC', times: h1TcTimes, idfs: h1TcIdfs, color: BLUE }
], fig1Notes, { padTop: 23, padRight: 22, yAxisW: 63, xAxisH: 46, xMin: -0.25, xMax: 5.25, yMin: 47.4, yMax: 102.3 });

kmChart('fig2', [
  { label: 'AC-T', times: h2ActTimes, idfs: h2ActIdfs, color: RED },
  { label: 'TC', times: h2TcTimes, idfs: h2TcIdfs, color: BLUE }
], fig2Notes, { padTop: 27, padRight: 27, yAxisW: 57, xAxisH: 44, xMin: -0.254, xMax: 5.24, yMin: 47.5, yMax: 102.5 });

riskTable('risk1', 'H1', h1RiskAct, h1RiskTc, [59, 80, 83, 78, 75, 81, 58]);
riskTable('risk2', 'H2', h2RiskAct, h2RiskTc, [55, 84, 83, 84, 83, 80, 45]);

table12('tab1', tab1Head, tab1Rows, [102, 60, 55, 65, 35]);
table12('tab2', tab2Head, tab2Rows, [101, 55, 55, 70, 36]);
table34('tab3', tab3Title, tab3Head, tab3Rows, [99, 72, 138, 130]);
table34('tab4', tab4Title, tab4Head, tab4Rows, [100, 72, 136, 131]);

drawBullets('introList', introItems, 42, 57, 563, 0, 0);
drawBullets('statList', statItems, 42, 57, 570, 0, 0);
drawBullets('resultList', resultItems, 1773, 1792, 2356, 1810, 1832);
drawBullets('conclList', conclItems, 1773, 1792, 2356, 1810, 1832);

// decorative QR-style block
(function () {
  const svg = document.getElementById('qr');
  const n = 25, cell = 6.6, r = 2.9;
  let s = '';
  const inFinder = (i, j) => (i < 8 && j < 8) || (i < 8 && j > n - 9) || (i > n - 9 && j < 8) || (i > n - 10 && j > n - 10);
  for (let i = 0; i < n; i++) {
    for (let j = 0; j < n; j++) {
      if (inFinder(i, j)) continue;
      if (i > 9 && i < 15 && j > 5 && j < 19) continue;
      if (((i * 7 + j * 13 + i * j) % 5) < 2) s += `<circle cx="${j * cell + 4}" cy="${i * cell + 4}" r="${r}" fill="#111"/>`;
    }
  }
  const finder = (x, y) => `<rect x="${x}" y="${y}" width="40" height="40" rx="12" fill="#111"/><rect x="${x + 6}" y="${y + 6}" width="28" height="28" rx="8" fill="#fff"/><rect x="${x + 11}" y="${y + 11}" width="18" height="18" rx="5" fill="#111"/>`;
  s += finder(0, 0) + finder(n * cell - 44, 0) + finder(0, n * cell - 44) + finder(n * cell - 46, n * cell - 46);
  s += `<text x="${n * cell / 2}" y="${n * cell / 2 + 9}" text-anchor="middle" font-family="Liberation Sans Narrow, Liberation Sans" font-weight="bold" font-size="28" fill="#333">FLEX</text>`;
  svg.innerHTML = s;
})();
</script>
</body>
</html>
